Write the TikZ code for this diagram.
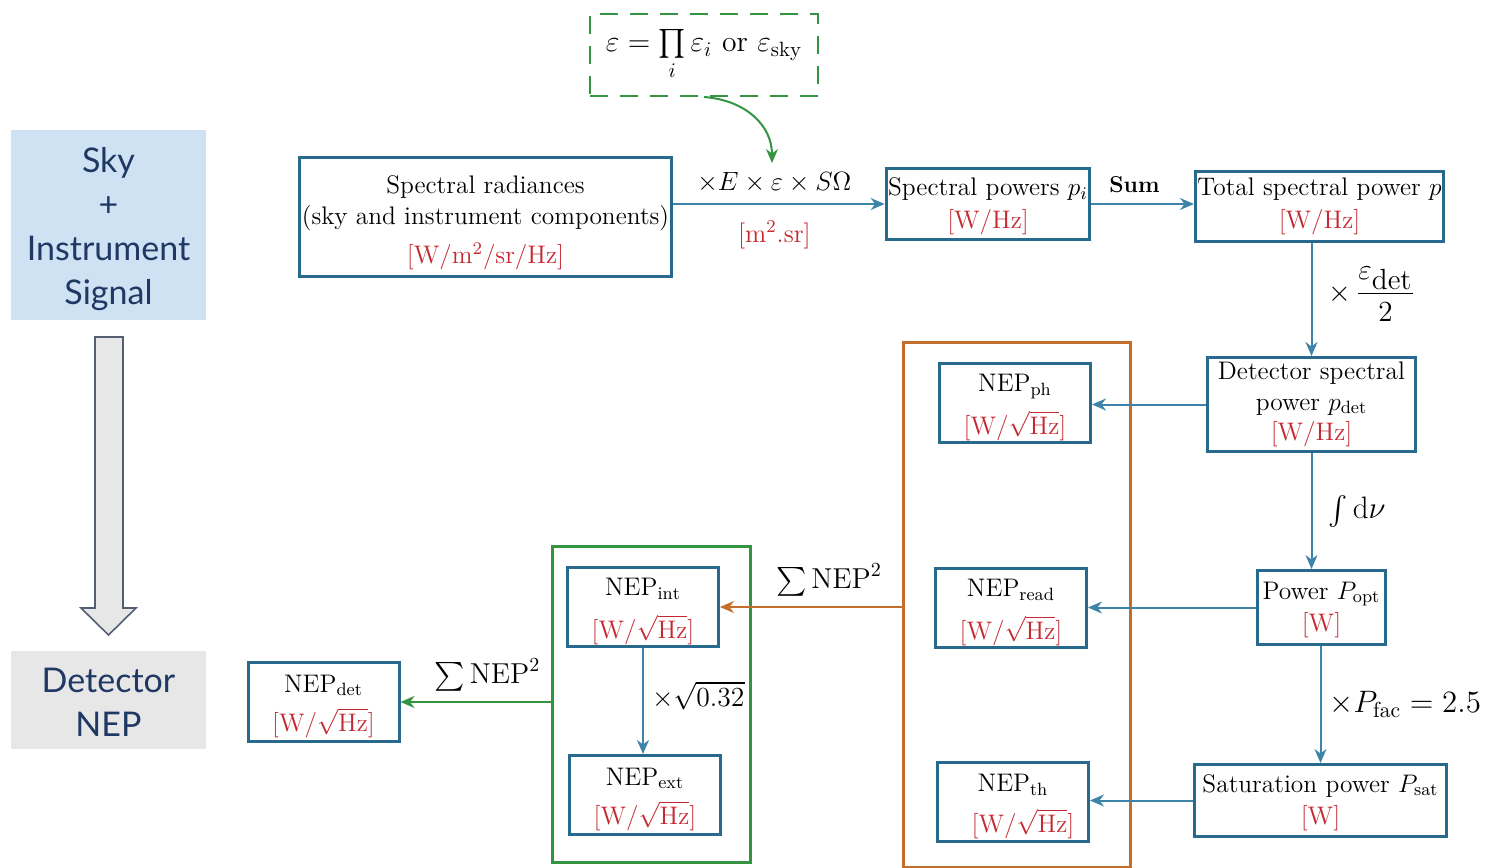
\RequirePackage{fix-cm}
\documentclass[tikz,border=0pt,12pt]{standalone}
\usepackage{amsmath}
\usepackage{fontspec}
\newfontfamily\panelfont{Lato}
\usetikzlibrary{arrows.meta}
\definecolor{boxblue}{RGB}{40,105,142}
\definecolor{flowblue}{RGB}{62,132,168}
\definecolor{unitred}{RGB}{196,40,48}
\definecolor{nepor}{RGB}{196,110,44}
\definecolor{nepgr}{RGB}{52,148,66}
\definecolor{skyfill}{RGB}{207,226,243}
\definecolor{detfill}{RGB}{231,231,231}
\definecolor{navy}{RGB}{31,56,100}
\definecolor{slate}{RGB}{84,94,114}
\newcommand{\un}[1]{\textcolor{unitred}{#1}}
\newcommand{\nepu}{\un{$[\mathrm{W}/\sqrt{\mathrm{Hz}}]$}}
\newcommand{\nepn}[1]{\rule{0pt}{13pt}$\mathrm{NEP}_{\mathrm{#1}}$}
\newcommand{\fs}[1]{\fontsize{#1}{#1}\selectfont}
\begin{document}
\begin{tikzpicture}[x=0.5pt, y=-0.5pt, font=\fontsize{12.7}{15.3}\selectfont,
    box/.style  ={draw=boxblue, line width=1.5pt, align=center, inner sep=1pt},
    nep/.style  ={box, minimum width=75.5pt, minimum height=39.5pt},
    flow/.style ={draw=flowblue, line width=1pt, -{Stealth[length=7pt,width=6pt]}},
    oflow/.style={flow, draw=nepor},
    gflow/.style={flow, draw=nepgr},
    panel/.style={minimum width=97.5pt},
    ptext/.style={text=navy, font=\panelfont\fontsize{17}{22}\selectfont, align=center},
  ]
  \useasboundingbox (0,0) rectangle (1485,868);
  % left panel
  \node[panel, fill=skyfill, minimum height=95pt] (sky) at (108.5,225) {};
  \node[ptext] (skytxt) at ([yshift=-2pt]sky.center) {Sky\\+\\Instrument\\Signal};
  \node[panel, fill=detfill, minimum height=49pt] (detnep) at (108.5,700) {};
  \node[ptext] (dettxt) at ([yshift=-1pt]detnep.center) {Detector\\NEP};
  \draw[fill=detfill, draw=slate, line width=0.8pt] (95,337) -- (123,337) -- (123,608) -- (136,608)
    -- (108.5,635) -- (81,608) -- (95,608) -- cycle;
  % emissivity
  \node[draw=nepgr, line width=1pt, dash pattern=on 9pt off 6pt, minimum width=114pt, minimum height=41pt, font=\fs{14.8}] (eps) at (704,55)
    {$\varepsilon=\prod\limits_i\varepsilon_i$ or $\varepsilon_{\mathrm{sky}}$};
  % signal chain
  \node[box, minimum width=183pt, minimum height=59.5pt] (rad) at (485.5,217)
    {\rule{0pt}{15pt}Spectral radiances\\(sky and instrument components)\\[4.5pt]\un{[W/m$^2$/sr/Hz]}};
  \node[box, minimum width=100.5pt, minimum height=35.5pt] (pi) at (988,204)
    {\rule{0pt}{11pt}Spectral powers $p_i$\\[1pt]\un{[W/Hz]}};
  \node[box, minimum width=123pt, minimum height=35pt] (p) at (1319.5,206.5)
    {Total spectral power $p$\\[1pt]\un{[W/Hz]}};
  \node[box, minimum width=104pt, minimum height=47pt] (pdet) at (1311.5,404.5)
    {Detector spectral\\power $p_{\mathrm{det}}$\\\un{[W/Hz]}};
  \node[box, minimum width=64pt, minimum height=37pt] (popt) at (1321.5,607.5)
    {\rule{0pt}{11pt}Power $P_{\mathrm{opt}}$\\[1pt]\un{[W]}};
  \node[box, minimum width=126pt, minimum height=36pt] (psat) at (1320.5,800.5)
    {\rule{0pt}{11pt}Saturation power $P_{\mathrm{sat}}$\\[1pt]\un{[W]}};
  % noise terms
  \node[draw=nepor, line width=1.5pt, minimum width=113.5pt, minimum height=262.5pt] (ob) at (1016.5,604.5) {};
  \node[draw=nepgr, line width=1.5pt, minimum width=99pt, minimum height=158pt] (gb) at (651,704) {};
  \node[nep] (ph)   at (1015,403) {\nepn{ph}\\[5pt]\nepu};
  \node[nep] (read) at (1011,608) {\nepn{read}\\[6pt]\nepu};
  \node[nep] (th)   at (1013,802) {\nepn{th}\\[5pt]\hspace{10pt}\nepu};
  \node[nep] (int)  at (643,607)  {\nepn{int}\\[6pt]\nepu};
  \node[nep] (ext)  at (645,795)  {\nepn{ext}\\[4.5pt]\nepu};
  \node[nep] (det)  at (323.5,702) {\nepn{det}\\[4.5pt]\nepu};
  % connectors
  \coordinate (tip) at (772,163);
  \draw[gflow] (eps.south) .. controls (745,100) and (772,125) .. (tip);
  \draw[flow] (pi.west -| rad.east) -- node[above=1pt, pos=0.48, font=\fs{13.2}] (lE) {$\times E\times\varepsilon\times S\Omega$}
    node[below=4pt, pos=0.48, font=\fs{13}] (lsr) {\un{[m$^2$.sr]}} (pi.west);
  \draw[flow] (pi.east) -- node[above=1pt, pos=0.42, font=\fs{11.5}] (lsum) {\textbf{Sum}} (pi.east -| p.west);
  \draw[flow] (pdet.north |- p.south) -- node[right=4pt, pos=0.45, font=\fs{14.6}] (leff)
    {$\times\,\dfrac{\varepsilon_{\textstyle\mathrm{det}}}{2}$} (pdet.north);
  \draw[flow] (pdet.south) -- node[right=4pt, font=\fs{15.5}] (lint) {$\int\mathrm{d}\nu$} (pdet.south |- popt.north);
  \draw[flow] (psat.north |- popt.south) -- node[right=0pt, font=\fs{15.5}] (lfac) {$\times P_{\mathrm{fac}}=2.5$} (psat.north);
  \draw[flow] (pdet.west) -- (pdet.west -| ph.east);
  \draw[flow] (popt.west) -- (popt.west -| read.east);
  \draw[flow] (psat.west) -- (psat.west -| th.east);
  \draw[oflow] (ob.west |- int.east) -- node[above=1pt, pos=0.4, font=\fs{14.4}] (lso) {$\sum\mathrm{NEP}^2$} (int.east);
  \draw[flow] (int.south) -- node[right=0pt, pos=0.45, font=\fs{13.8}] (lsq) {$\times\sqrt{0.32}$} (int.south |- ext.north);
  \draw[gflow] (gb.west |- det.east) -- node[above=1pt, pos=0.42, font=\fs{14.4}] (lsg) {$\sum\mathrm{NEP}^2$} (det.east);
\end{tikzpicture}
\end{document}
